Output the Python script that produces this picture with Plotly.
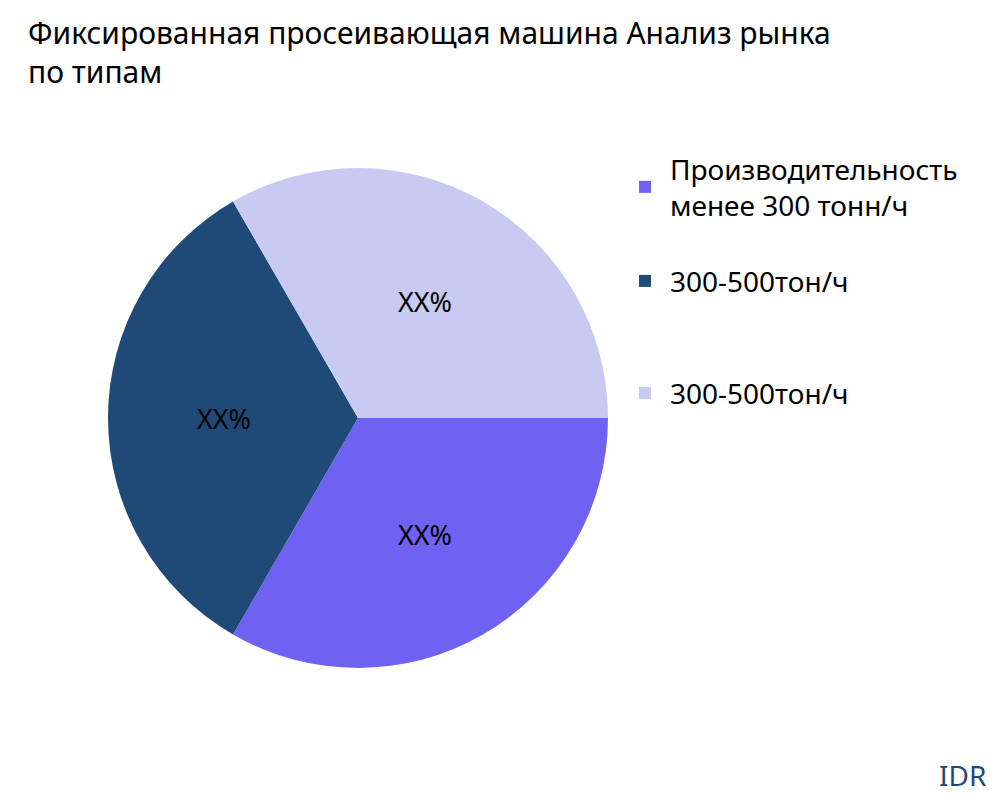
import plotly.graph_objects as go

labels = ["Производительность<br>менее 300 тонн/ч", " <br>300-500тон/ч<br> ", " <br>300-500тон/ч <br> "]
values = [1, 1, 1]
texts = ["XX%", "XX%", "XX%"]
colors = ["#6F62F2", "#1F4A78", "#C9CAF2"]

fig = go.Figure(go.Pie(
    labels=labels, values=values, text=texts, textinfo="text",
    marker=dict(colors=colors), sort=False, direction="clockwise", rotation=90,
    textfont=dict(size=27, color="black", family="Noto Sans"), hoverinfo="label",
    domain=dict(x=[0.1, 0.6], y=[0.175, 0.8]),
))
fig.update_layout(
    width=1000, height=800,
    font=dict(family="Noto Sans", color="black"),
    title=dict(text="Фиксированная просеивающая машина Анализ рынка<br>по типам",
               x=0.02, xanchor="left", y=0.955, yanchor="top", font=dict(size=30)),
    margin=dict(l=0, r=0, t=0, b=0),
    legend=dict(x=0.612, y=0.83, xanchor="left", yanchor="top", font=dict(size=28),
                tracegroupgap=0, itemwidth=40),
    paper_bgcolor="white",
    annotations=[dict(text="IDR", x=0.98, y=0.015, xref="paper", yref="paper",
                      xanchor="right", yanchor="bottom", showarrow=False,
                      font=dict(size=28, color="#1F4A78"))],
)
fig.write_html("out.html")
